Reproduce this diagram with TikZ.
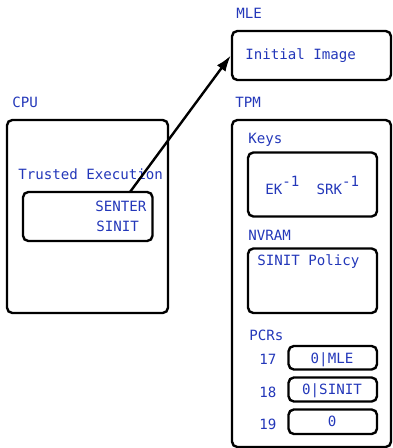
\documentclass[tikz,border=0pt]{standalone}
\usepackage{fontspec}
\setmainfont{DejaVu Sans Mono}
\usetikzlibrary{arrows.meta,fit}
\definecolor{txtblue}{RGB}{35,55,185}
\tikzset{
  lab/.style={anchor=base west,inner sep=0pt,text=txtblue,font=\fontsize{10.6}{12.7}\selectfont},
  val/.style={anchor=base,inner sep=0pt,text=txtblue,font=\fontsize{10.6}{12.7}\selectfont},
  blk/.style={draw,rounded corners=4pt,line width=1.8pt,inner sep=0pt},
}
\newcommand{\invexp}{\raisebox{6pt}{-1}}

\begin{document}
\begin{tikzpicture}[x=0.75pt,y=-0.75pt]
  \useasboundingbox (0,0) rectangle (392,448);
  % MLE
  \node[lab] (mlelab) at (236,19) {MLE};
  \node[blk,fit={(232,31) (391,80)}] (mle) {};
  \node[lab] (img) at (245,60) {Initial Image};
  % CPU
  \node[lab] (cpulab) at (12,108) {CPU};
  \node[blk,fit={(7,120) (168,313)}] (cpu) {};
  \node[lab] (telab) at (18,180) {Trusted Execution};
  \node[blk,fit={(23,192) (152.5,241)}] (te) {};
  \node[lab] (senter) at (95,212) {SENTER};
  \node[lab] (sinit) at (96,232) {SINIT};
  \coordinate (src) at (130,192);
  \draw[line width=1.8pt,-{Latex[length=12pt,width=8pt]}] (src) -- (mle.west);
  % TPM
  \node[lab] (tpmlab) at (235,108) {TPM};
  \node[blk,fit={(232,120) (391,447)}] (tpm) {};
  \node[lab] (keyslab) at (248,144) {Keys};
  \node[blk,fit={(248,152.5) (377,216.5)}] (keys) {};
  \node[lab] (ek) at (265,195) {EK\invexp\hspace{13pt}SRK\invexp};
  \node[lab] (nvlab) at (248,240) {NVRAM};
  \node[blk,fit={(248,248.5) (377,313)}] (nv) {};
  \node[lab] (pol) at (257,265.5) {SINIT Policy};
  \node[lab] (pcrlab) at (249,340) {PCRs};
  \node[lab] (n17) at (259,364) {17};
  \node[blk,fit={(288.5,346) (377,369.5)}] (p17) {};
  \node[val] (v17) at (332,363) {0|MLE};
  \node[lab] (n18) at (259,397) {18};
  \node[blk,fit={(288.5,377.5) (377,401.5)}] (p18) {};
  \node[val] (v18) at (332,394) {0|SINIT};
  \node[lab] (n19) at (259,429) {19};
  \node[blk,fit={(288.5,409.5) (377,434)}] (p19) {};
  \node[val] (v19) at (332,426) {0};
\end{tikzpicture}
\end{document}
